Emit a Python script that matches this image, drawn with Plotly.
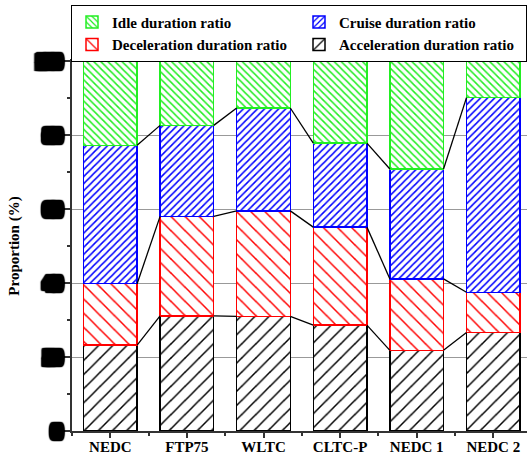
import plotly.graph_objects as go

cycles = ["NEDC", "FTP75", "WLTC", "CLTC-P", "NEDC 1", "NEDC 2"]
accel = [23.2, 31.1, 31.0, 28.6, 21.8, 26.6]
decel = [16.6, 26.9, 28.5, 26.5, 19.3, 10.9]
cruise = [37.4, 24.6, 27.8, 22.7, 29.7, 52.6]
idle = [22.8, 17.4, 12.7, 22.2, 29.2, 9.9]
ytick_vals = [0, 20, 40, 60, 80, 100]
ytick_text = ["0", "20", "40", "60", "80", "100"]

FONT = "Times New Roman, Liberation Serif, serif"
x = list(range(len(cycles)))
W = 0.7

fig = go.Figure()

def bar(name, vals, color, shape, size, sol):
    return go.Bar(
        x=x, y=vals, name=name, width=W,
        marker=dict(color="white", line=dict(color=color, width=1.5),
                    pattern=dict(shape=shape, fgcolor=color, bgcolor="white",
                                 size=size, solidity=sol, fillmode="replace")),
    )

fig.add_trace(bar("Acceleration duration ratio", accel, "black", "/", 10, 0.15))
fig.add_trace(bar("Deceleration duration ratio", decel, "red", "\\", 10, 0.15))
fig.add_trace(bar("Cruise duration ratio", cruise, "blue", "/", 5, 0.3))
fig.add_trace(bar("Idle duration ratio", idle, "#22ee22", "\\", 5, 0.3))
for i, t in enumerate(fig.data):
    t.legendrank = [4, 3, 2, 1][i]

c1 = accel
c2 = [a + b for a, b in zip(accel, decel)]
c3 = [a + b + c for a, b, c in zip(accel, decel, cruise)]
for lev in (c1, c2, c3):
    lx, ly = [], []
    for i in range(len(cycles) - 1):
        lx += [i + W / 2, i + 1 - W / 2, None]
        ly += [lev[i], lev[i + 1], None]
    fig.add_trace(go.Scatter(x=lx, y=ly, mode="lines", showlegend=False,
                             line=dict(color="black", width=1.3), hoverinfo="skip"))

shadow = ", ".join(f"{dx}px {dy}px 1px #000" for dx in (-4, -3, -2, -1, 0, 1, 2, 3, 4)
                   for dy in (-4, -3, -2, -1, 0, 1, 2, 3, 4))

fig.update_layout(
    width=527, height=461,
    margin=dict(l=72, r=0, t=61, b=30),
    barmode="stack",
    plot_bgcolor="white", paper_bgcolor="white",
    font=dict(family=FONT, size=14, color="black"),
    showlegend=True,
    legend=dict(
        orientation="h", x=0.0, xanchor="left", y=1.152, yanchor="top",
        entrywidth=182, traceorder="normal",
        bordercolor="black", borderwidth=1, bgcolor="white",
        font=dict(family=FONT, size=15, color="black", weight="bold"),
        tracegroupgap=0, itemwidth=30,
    ),
    xaxis=dict(
        range=[-0.5, 5.44], tickmode="array", tickvals=x, ticktext=cycles,
        ticks="outside", ticklen=5, tickcolor="#333", tickwidth=1.5,
        showline=True, linecolor="#333", linewidth=2, mirror=True,
        showgrid=False, zeroline=False, ticklabelstandoff=-4,
        tickfont=dict(family=FONT, size=15, color="black", weight="bold"),
        minor=dict(tickmode="array", tickvals=[-0.5, 0.5, 1.5, 2.5, 3.5, 4.5],
                   ticks="outside", ticklen=3, tickcolor="#333", tickwidth=1.5),
    ),
    yaxis=dict(
        range=[0, 100], tickmode="array", tickvals=ytick_vals, ticktext=ytick_text,
        ticks="outside", ticklen=6, tickcolor="#333", tickwidth=1.5,
        showline=True, linecolor="#333", linewidth=2,
        showgrid=True, gridcolor="#999", gridwidth=1, zeroline=False,
        tickfont=dict(family=FONT, size=16, color="black", weight="bold", shadow=shadow),
        title=dict(text="Proportion (%)", standoff=14,
                   font=dict(family=FONT, size=15, color="black", weight="bold")),
        minor=dict(dtick=10, ticks="outside", ticklen=3, tickcolor="#333",
                   tickwidth=1.5, showgrid=False),
    ),
)

fig.write_html("out.html")
